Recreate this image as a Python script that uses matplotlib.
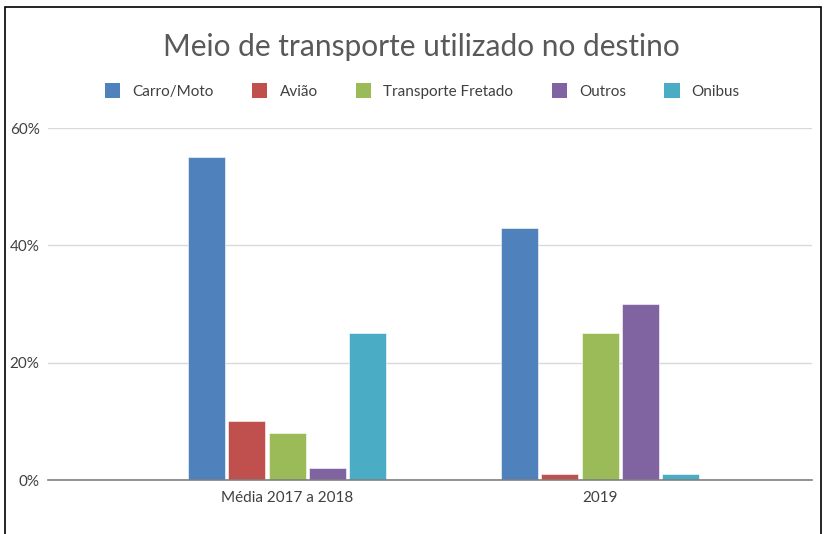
import numpy as np
import matplotlib
matplotlib.use("Agg")
import matplotlib.pyplot as plt
from matplotlib.patches import Rectangle, Patch
from matplotlib.ticker import FuncFormatter

# values (percent)
categories = ["Média 2017 a 2018", "2019"]
series_names = ["Carro/Moto", "Avião", "Transporte Fretado", "Outros", "Onibus"]
carro_moto = [55, 43]
aviao = [10, 1]
fretado = [8, 25]
outros = [2, 30]
onibus = [25, 1]
yticks = [0, 20, 40, 60]

series = [carro_moto, aviao, fretado, outros, onibus]
colors = ["#4F81BD", "#C0504D", "#9BBB59", "#8064A2", "#4BACC6"]

plt.rcParams['font.family'] = ['Lato', 'DejaVu Sans']

fig = plt.figure(figsize=(8.25, 5.34), dpi=100)
ax = fig.add_axes([48/825, 54/534, (812-48)/825, (480-128)/534])

x = np.arange(len(categories))
width = 0.118
step = 0.129
for i, (name, vals, c) in enumerate(zip(series_names, series, colors)):
    ax.bar(x + (i - 2)*step, vals, width, color=c, label=name,
           edgecolor="white", linewidth=0.4, zorder=3)

ax.set_xlim(-0.764, 1.677)
ax.set_ylim(0, 60)
ax.set_yticks(yticks)
ax.yaxis.set_major_formatter(FuncFormatter(lambda v, p: f"{v:.0f}%"))
ax.set_xticks(x)
ax.set_xticklabels(categories)
ax.tick_params(axis="both", length=0, labelsize=11, colors="#404040")
ax.tick_params(axis="y", pad=6)
ax.tick_params(axis="x", pad=8)
ax.grid(axis="y", color="#d9d9d9", linewidth=1, zorder=0)
for s in ["top", "right", "left"]:
    ax.spines[s].set_visible(False)
ax.spines["bottom"].set_color("#7f7f7f")
ax.spines["bottom"].set_linewidth(1.2)
ax.spines["bottom"].set_zorder(4)

fig.text(0.511, 1 - 47/534, "Meio de transporte utilizado no destino",
         ha="center", va="center", fontsize=21.5, color="#595959")

handles = [Patch(facecolor=c, edgecolor="none") for c in colors]
fig.legend(handles, series_names, loc="center", bbox_to_anchor=(0.512, 1 - 91/534),
           ncol=5, frameon=False, fontsize=11, handlelength=1.0, handleheight=1.1,
           handletextpad=0.8, columnspacing=2.5, labelcolor="#404040")

# outer frame of the chart
fig.patches.append(Rectangle((5/825, -0.1), (821-5)/825, 1.1 - 7/534,
                             transform=fig.transFigure, fill=False,
                             edgecolor="black", linewidth=1.2))

plt.savefig("out.png", dpi=100)
